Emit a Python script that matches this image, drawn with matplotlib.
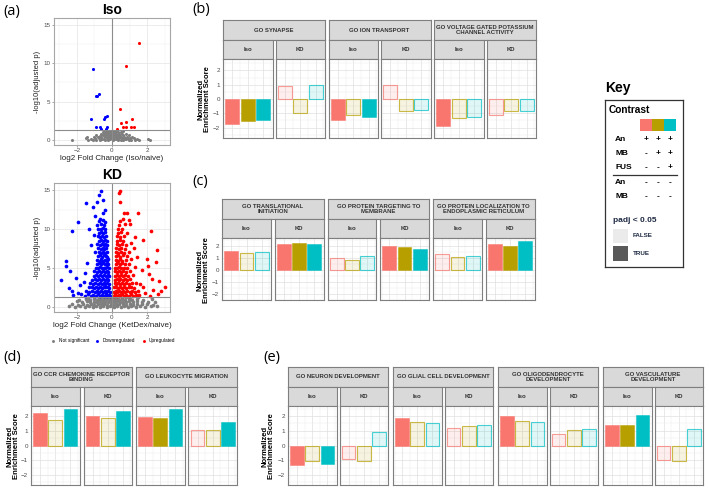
import matplotlib.pyplot as plt
from matplotlib.colors import to_rgba
from matplotlib.patches import Rectangle

W, H = 709, 488
plt.rcParams['font.family'] = ['Liberation Sans', 'DejaVu Sans']

contrast_colors = ["#F8766D", "#B79F00", "#00BFC4"]

# ---------------- volcano data (log2FC, -log10 padj) ----------------
iso_up = [(1.54, 12.6), (0.80, 9.7), (0.48, 4.0), (0.51, 2.2), (0.80, 2.3), (1.14, 2.7),
          (0.30, 1.4), (0.60, 1.7), (0.78, 1.7), (1.06, 1.65), (1.27, 1.75)]
iso_down = [(-1.10, 9.26), (-0.76, 6.0), (-0.86, 5.8), (-0.91, 5.7), (-1.20, 2.7), (-0.44, 2.75),
            (-0.38, 2.95), (-0.27, 3.15), (-0.90, 1.7), (-0.70, 1.65), (-0.60, 1.5), (-0.30, 1.7),
            (-0.35, 1.45)]
iso_ns = [(-2.30, 0.02), (-1.35, 0.05), (-1.10, 0.0), (-0.90, 0.06), (-0.70, 0.02), (-0.55, 0.08),
          (-0.40, 0.01), (-0.25, 0.05), (-0.10, 0.1), (0.05, 0.03), (0.20, 0.08), (0.35, 0.02),
          (0.50, 0.06), (0.65, 0.01), (0.80, 0.07), (0.95, 0.03), (1.10, 0.05), (1.30, 0.02),
          (1.55, 0.06), (2.05, 0.1), (2.15, 0.02),
          (-1.50, 0.22), (-1.20, 0.18), (-0.95, 0.25), (-0.75, 0.2), (-0.60, 0.26), (-0.45, 0.18),
          (-0.30, 0.24), (-0.15, 0.2), (0.00, 0.26), (0.12, 0.18), (0.28, 0.24), (0.42, 0.2),
          (0.58, 0.26), (0.72, 0.18), (0.90, 0.22), (1.05, 0.2), (1.25, 0.24), (1.45, 0.18),
          (-1.40, 0.42), (-1.00, 0.38), (-0.80, 0.45), (-0.62, 0.4), (-0.48, 0.46), (-0.35, 0.38),
          (-0.20, 0.44), (-0.08, 0.4), (0.08, 0.45), (0.20, 0.38), (0.34, 0.44), (0.50, 0.4),
          (0.66, 0.45), (0.85, 0.38), (1.15, 0.42),
          (-0.90, 0.62), (-0.70, 0.58), (-0.52, 0.65), (-0.38, 0.6), (-0.25, 0.66), (-0.12, 0.58),
          (0.03, 0.64), (0.15, 0.6), (0.30, 0.65), (0.45, 0.58), (0.62, 0.62), (0.95, 0.6),
          (-0.60, 0.8), (-0.45, 0.85), (-0.30, 0.78), (-0.18, 0.84), (-0.05, 0.8), (0.10, 0.86),
          (0.22, 0.78), (0.38, 0.84), (0.55, 0.8), (0.80, 0.82),
          (-0.50, 1.0), (-0.32, 1.05), (-0.20, 0.98), (-0.08, 1.04), (0.05, 1.0), (0.18, 1.05),
          (0.32, 0.98), (0.50, 1.02),
          (-0.42, 1.2), (-0.22, 1.15), (-0.10, 1.22), (0.02, 1.18), (0.15, 1.2), (0.30, 1.16),
          (0.62, 1.2)]

kd_down = [(-0.61, 14.9), (-0.72, 14.3), (-0.50, 13.7), (-0.88, 13.4), (-1.49, 13.3), (-1.10, 12.8),
           (-0.38, 12.5), (-0.53, 12.0), (-0.97, 11.7), (-0.66, 11.3), (-1.96, 10.9), (-2.25, 9.8),
           (-1.30, 10.0), (-2.59, 5.9), (-2.63, 5.2), (-2.40, 4.6), (-2.91, 3.5), (-2.06, 3.7),
           (-2.46, 2.4), (-2.30, 2.0), (-1.95, 1.8), (-2.20, 1.5), (-1.75, 1.6), (-1.60, 3.2),
           (-1.55, 4.4), (-1.80, 2.8), (-1.40, 5.6), (-1.20, 7.9), (-1.05, 9.2),
           (-1.55, 1.45), (-1.38, 1.6), (-1.22, 1.4), (-1.06, 1.55), (-0.92, 1.42), (-0.80, 1.6),
           (-0.68, 1.45), (-0.57, 1.55), (-0.46, 1.4), (-0.36, 1.6), (-0.26, 1.45), (-0.17, 1.55),
           (-0.10, 1.4),
           (-1.48, 2.05), (-1.30, 1.9), (-1.12, 2.1), (-0.98, 1.95), (-0.85, 2.1), (-0.74, 1.9),
           (-0.63, 2.05), (-0.52, 1.95), (-0.42, 2.1), (-0.32, 1.9), (-0.22, 2.05), (-0.13, 1.95),
           (-1.33, 2.5), (-1.16, 2.6), (-1.02, 2.45), (-0.89, 2.6), (-0.77, 2.45), (-0.66, 2.55),
           (-0.55, 2.45), (-0.45, 2.6), (-0.35, 2.5), (-0.25, 2.6), (-0.15, 2.45),
           (-1.25, 3.05), (-1.08, 2.95), (-0.94, 3.1), (-0.81, 2.95), (-0.69, 3.05), (-0.58, 2.95),
           (-0.47, 3.1), (-0.37, 2.95), (-0.27, 3.05), (-0.17, 2.95),
           (-1.15, 3.5), (-0.98, 3.6), (-0.85, 3.45), (-0.73, 3.6), (-0.62, 3.45), (-0.51, 3.55),
           (-0.41, 3.45), (-0.31, 3.6), (-0.21, 3.5),
           (-1.05, 4.0), (-0.90, 4.1), (-0.77, 3.95), (-0.66, 4.1), (-0.55, 3.95), (-0.45, 4.05),
           (-0.35, 3.95), (-0.25, 4.1), (-0.17, 4.0),
           (-1.00, 4.55), (-0.85, 4.45), (-0.72, 4.6), (-0.61, 4.45), (-0.50, 4.55), (-0.40, 4.45),
           (-0.30, 4.6), (-0.20, 4.5),
           (-0.93, 5.05), (-0.80, 4.95), (-0.68, 5.1), (-0.57, 4.95), (-0.47, 5.05), (-0.37, 4.95),
           (-0.27, 5.1), (-0.19, 5.0),
           (-0.88, 5.5), (-0.75, 5.6), (-0.63, 5.45), (-0.52, 5.6), (-0.42, 5.45), (-0.32, 5.55),
           (-0.23, 5.45),
           (-0.84, 6.05), (-0.71, 5.95), (-0.60, 6.1), (-0.49, 5.95), (-0.39, 6.05), (-0.29, 5.95),
           (-0.21, 6.1),
           (-0.80, 6.5), (-0.67, 6.6), (-0.56, 6.45), (-0.45, 6.6), (-0.35, 6.5), (-0.26, 6.45),
           (-0.95, 7.0), (-0.74, 7.1), (-0.62, 6.95), (-0.51, 7.1), (-0.41, 6.95), (-0.31, 7.05),
           (-0.78, 7.55), (-0.65, 7.45), (-0.54, 7.6), (-0.44, 7.45), (-0.34, 7.55),
           (-0.85, 8.05), (-0.70, 7.95), (-0.58, 8.1), (-0.47, 7.95), (-0.37, 8.05), (-0.28, 7.95),
           (-0.76, 8.5), (-0.63, 8.6), (-0.52, 8.45), (-0.41, 8.55), (-0.31, 8.45),
           (-0.80, 9.05), (-0.67, 8.95), (-0.55, 9.1), (-0.44, 8.95), (-0.35, 9.05),
           (-0.72, 9.5), (-0.60, 9.6), (-0.49, 9.45), (-0.39, 9.55),
           (-0.78, 10.05), (-0.64, 9.95), (-0.52, 10.1), (-0.42, 9.95),
           (-0.85, 10.5), (-0.62, 10.6), (-0.47, 10.45),
           (-0.74, 11.0), (-0.52, 11.1), (-0.40, 10.95)]

kd_up = [(0.46, 14.9), (0.38, 14.6), (0.46, 13.5), (0.69, 12.0), (0.85, 12.0), (1.50, 12.0),
         (0.60, 11.3), (1.05, 10.7), (2.20, 9.7), (1.77, 8.6), (2.55, 7.3), (2.50, 5.8),
         (1.98, 6.1), (2.65, 3.3), (3.00, 2.6), (2.25, 3.6), (2.35, 2.2), (1.90, 1.8),
         (2.60, 1.6), (2.80, 2.0), (1.70, 4.7), (2.05, 5.2), (1.45, 6.4), (1.30, 9.0),
         (1.60, 3.0), (1.75, 2.5), (2.10, 4.2), (1.25, 7.6), (1.55, 1.5), (2.15, 1.4),
         (0.10, 1.45), (0.18, 1.6), (0.27, 1.42), (0.37, 1.55), (0.47, 1.4), (0.58, 1.6),
         (0.69, 1.45), (0.81, 1.55), (0.94, 1.42), (1.08, 1.6), (1.22, 1.45), (1.38, 1.55),
         (0.12, 1.95), (0.21, 2.1), (0.31, 1.9), (0.41, 2.05), (0.52, 1.95), (0.63, 2.1),
         (0.75, 1.9), (0.88, 2.05), (1.01, 1.95), (1.16, 2.1), (1.32, 1.9), (1.50, 2.05),
         (0.14, 2.5), (0.24, 2.6), (0.34, 2.45), (0.45, 2.6), (0.56, 2.45), (0.68, 2.55),
         (0.80, 2.45), (0.94, 2.6), (1.10, 2.5), (1.28, 2.45),
         (0.15, 3.05), (0.25, 2.95), (0.35, 3.1), (0.46, 2.95), (0.57, 3.05), (0.69, 2.95),
         (0.82, 3.1), (0.97, 2.95), (1.15, 3.05), (1.35, 3.1),
         (0.16, 3.5), (0.26, 3.6), (0.37, 3.45), (0.48, 3.6), (0.60, 3.45), (0.73, 3.55),
         (0.88, 3.45), (1.05, 3.6),
         (0.17, 4.0), (0.27, 4.1), (0.38, 3.95), (0.50, 4.1), (0.62, 3.95), (0.76, 4.05),
         (0.92, 3.95), (1.20, 4.1),
         (0.18, 4.55), (0.28, 4.45), (0.40, 4.6), (0.52, 4.45), (0.65, 4.55), (0.80, 4.45),
         (1.00, 4.6),
         (0.19, 5.05), (0.29, 4.95), (0.41, 5.1), (0.53, 4.95), (0.67, 5.05), (0.85, 4.95),
         (1.30, 5.1),
         (0.20, 5.5), (0.31, 5.6), (0.43, 5.45), (0.56, 5.6), (0.72, 5.45), (0.95, 5.55),
         (0.21, 6.05), (0.32, 5.95), (0.45, 6.1), (0.59, 5.95), (0.77, 6.05), (1.10, 6.1),
         (0.22, 6.5), (0.34, 6.6), (0.47, 6.45), (0.62, 6.6), (0.85, 6.5),
         (0.23, 7.05), (0.36, 6.95), (0.50, 7.1), (0.66, 6.95), (0.95, 7.05),
         (0.25, 7.55), (0.38, 7.45), (0.53, 7.6), (0.72, 7.45),
         (0.26, 8.05), (0.40, 7.95), (0.56, 8.1), (0.78, 7.95), (1.10, 8.2),
         (0.28, 8.5), (0.43, 8.6), (0.60, 8.45),
         (0.30, 9.05), (0.46, 8.95), (0.66, 9.1),
         (0.33, 9.5), (0.52, 9.6), (0.85, 9.45),
         (0.36, 10.05), (0.58, 9.95),
         (0.40, 10.5), (0.75, 10.6),
         (0.45, 11.0), (0.95, 11.2)]

kd_ns = [(-2.45, 0.1), (-2.10, 0.05), (-1.80, 0.12), (-1.55, 0.05), (-1.30, 0.1), (-1.10, 0.03),
         (-0.90, 0.1), (-0.70, 0.05), (-0.50, 0.08), (-0.30, 0.03), (-0.10, 0.1), (0.10, 0.05),
         (0.30, 0.1), (0.50, 0.03), (0.70, 0.1), (0.90, 0.05), (1.10, 0.12), (1.35, 0.05),
         (1.60, 0.1), (1.90, 0.05), (2.20, 0.12), (2.55, 0.08),
         (-2.30, 0.4), (-1.95, 0.3), (-1.65, 0.42), (-1.40, 0.3), (-1.20, 0.38), (-1.00, 0.3),
         (-0.82, 0.4), (-0.62, 0.32), (-0.44, 0.4), (-0.26, 0.3), (-0.08, 0.38), (0.08, 0.3),
         (0.25, 0.4), (0.42, 0.32), (0.60, 0.4), (0.80, 0.3), (1.00, 0.38), (1.22, 0.3),
         (1.45, 0.4), (1.72, 0.32), (2.00, 0.4), (2.35, 0.3),
         (-2.00, 0.7), (-1.70, 0.6), (-1.45, 0.7), (-1.25, 0.6), (-1.05, 0.68), (-0.87, 0.6),
         (-0.70, 0.7), (-0.53, 0.6), (-0.37, 0.68), (-0.20, 0.6), (-0.05, 0.7), (0.10, 0.6),
         (0.26, 0.7), (0.43, 0.6), (0.60, 0.68), (0.78, 0.6), (0.97, 0.7), (1.18, 0.6),
         (1.40, 0.7), (1.68, 0.62), (2.05, 0.68), (2.45, 0.6),
         (-1.85, 0.95), (-1.50, 1.0), (-1.25, 0.92), (-1.05, 1.0), (-0.85, 0.92), (-0.66, 1.0),
         (-0.50, 0.92), (-0.34, 1.0), (-0.18, 0.92), (-0.04, 1.0), (0.09, 0.92), (0.24, 1.0),
         (0.40, 0.92), (0.57, 1.0), (0.75, 0.92), (0.95, 1.0), (1.15, 0.92), (1.40, 1.0),
         (1.75, 0.95), (2.25, 0.98),
         (-1.35, 1.2), (-1.00, 1.25), (-0.75, 1.18), (-0.55, 1.25), (-0.38, 1.18), (-0.22, 1.25),
         (-0.08, 1.18), (0.06, 1.25), (0.20, 1.18), (0.36, 1.25), (0.55, 1.18), (0.78, 1.25),
         (1.05, 1.2), (1.50, 1.22)]

# ---------------- GSEA data: NES per contrast (An, An+MB, An+MB+FUS) ----------------
b_terms = ["GO SYNAPSE", "GO ION TRANSPORT", "GO VOLTAGE GATED POTASSIUM\nCHANNEL ACTIVITY"]
b_iso = [[-1.74, -1.53, -1.49], [-1.47, -1.14, -1.23], [-1.88, -1.30, -1.23]]
b_iso_sig = [[1, 1, 1], [1, 0, 1], [1, 0, 0]]
b_kd = [[0.90, -1.00, 0.95], [0.95, -0.84, -0.74], [-1.14, -0.84, -0.84]]
b_kd_sig = [[0, 0, 0], [0, 0, 0], [0, 0, 0]]

c_terms = ["GO TRANSLATIONAL\nINITIATION", "GO PROTEIN TARGETING TO\nMEMBRANE",
           "GO PROTEIN LOCALIZATION TO\nENDOPLASMIC RETICULUM"]
c_iso = [[1.63, 1.43, 1.52], [1.06, 0.87, 1.17], [1.36, 1.08, 1.22]]
c_iso_sig = [[1, 0, 0], [0, 0, 0], [0, 0, 0]]
c_kd = [[2.16, 2.32, 2.16], [2.00, 1.93, 1.77], [2.23, 2.07, 2.44]]
c_kd_sig = [[1, 1, 1], [1, 1, 1], [1, 1, 1]]

d_terms = ["GO CCR CHEMOKINE RECEPTOR\nBINDING", "GO LEUKOCYTE MIGRATION"]
d_iso = [[2.18, 1.75, 2.50], [1.95, 1.86, 2.46]]
d_iso_sig = [[1, 0, 1], [1, 1, 1]]
d_kd = [[2.00, 1.86, 2.37], [1.03, 1.03, 1.63]]
d_kd_sig = [[1, 0, 1], [0, 0, 1]]

e_terms = ["GO NEURON DEVELOPMENT", "GO GLIAL CELL DEVELOPMENT", "GO OLIGODENDROCYTE\nDEVELOPMENT",
           "GO VASCULATURE\nDEVELOPMENT"]
e_iso = [[-1.36, -1.08, -1.24], [1.84, 1.63, 1.56], [1.98, 1.66, 1.61], [1.43, 1.43, 2.09]]
e_iso_sig = [[1, 0, 1], [1, 0, 0], [1, 0, 0], [1, 1, 1]]
e_kd = [[-0.94, -1.08, 0.94], [1.22, 1.31, 1.38], [0.76, 1.08, 1.13], [-0.97, -1.08, 1.15]]
e_kd_sig = [[0, 0, 0], [0, 0, 0], [0, 0, 0], [0, 0, 0]]

key_rows = ["An", "MB", "FUS", "An", "MB"]
key_signs = [["+", "+", "+"], ["-", "+", "+"], ["-", "-", "+"], ["-", "-", "-"], ["-", "-", "-"]]

fig = plt.figure(figsize=(W / 100, H / 100), dpi=100)


def add_ax(x0, y0, x1, y1):
    # pixel box (top-left origin) -> figure axes
    return fig.add_axes([x0 / W, 1 - y1 / H, (x1 - x0) / W, (y1 - y0) / H])


def volcano(box, ns, down, up, title, xlabel, size=5, legend=False):
    ax = add_ax(*box)
    ax.scatter([p[0] for p in ns], [p[1] for p in ns], s=size, c="#7F7F7F", lw=0, label="Not significant")
    ax.scatter([p[0] for p in down], [p[1] for p in down], s=size, c="#0000FF", lw=0, label="Downregulated")
    ax.scatter([p[0] for p in up], [p[1] for p in up], s=size, c="#FF0000", lw=0, label="Upregulated")
    ax.axhline(1.3, color="#8C8C8C", lw=0.8)
    ax.axvline(0, color="#8C8C8C", lw=0.8)
    ax.set_xlim(-3.3, 3.3)
    ax.set_ylim(-0.65, 15.9)
    ax.set_xticks([-2, 0, 2])
    ax.set_yticks([0, 5, 10, 15])
    ax.set_xticks([-3, -1, 1, 3], minor=True)
    ax.set_yticks([2.5, 7.5, 12.5], minor=True)
    ax.grid(True, which="major", color="#E5E5E5", lw=0.5)
    ax.grid(True, which="minor", color="#F0F0F0", lw=0.3)
    ax.set_axisbelow(True)
    ax.tick_params(labelsize=4.5, labelcolor="#4D4D4D", length=1.5, width=0.5, color="#808080", pad=1)
    ax.tick_params(which="minor", length=0)
    for s in ax.spines.values():
        s.set_color("#A6A6A6")
        s.set_linewidth(0.8)
    ax.set_ylabel("-log10(adjusted p)", fontsize=5.5, labelpad=2, color="#222222")
    ax.set_xlabel(xlabel, fontsize=5.8, labelpad=1, color="#222222")
    ax.set_title(title, fontsize=10, fontweight="bold", pad=3)
    if legend:
        ax.legend(loc="upper center", bbox_to_anchor=(0.5, -0.17), ncol=3, fontsize=3.4,
                  frameon=False, handletextpad=0.1, columnspacing=0.8, markerscale=0.8)
    return ax


def strip(x0, y0, x1, y1, text):
    ax = add_ax(x0, y0, x1, y1)
    ax.set_facecolor("#D9D9D9")
    ax.set_xticks([])
    ax.set_yticks([])
    for s in ax.spines.values():
        s.set_color("#7F7F7F")
        s.set_linewidth(0.8)
    ax.text(0.5, 0.5, text, ha="center", va="center", fontsize=4.3, fontweight="bold",
            color="#333333", transform=ax.transAxes, linespacing=1.0)


def bar_panel(box, values, sig, ylim, show_y):
    ax = add_ax(*box)
    for i, (v, s, c) in enumerate(zip(values, sig, contrast_colors)):
        if s:
            ax.bar(i + 1, v, width=0.9, color=c, edgecolor=to_rgba(c, 0.6), lw=0.6)
        else:
            ax.bar(i + 1, v, width=0.9, color=to_rgba(c, 0.12), edgecolor=to_rgba(c, 0.7), lw=0.8)
    ax.set_xlim(0.4, 3.6)
    ax.set_ylim(*ylim)
    ax.set_xticks([1, 2, 3])
    ax.set_xticks([0.5, 1.5, 2.5, 3.5], minor=True)
    ax.set_yticks([-2, -1, 0, 1, 2])
    ax.set_yticks([-2.5, -1.5, -0.5, 0.5, 1.5, 2.5], minor=True)
    ax.grid(True, which="major", color="#E0E0E0", lw=0.5)
    ax.grid(True, which="minor", color="#EDEDED", lw=0.35)
    ax.set_axisbelow(True)
    ax.tick_params(which="both", length=0)
    ax.set_xticklabels([])
    if show_y:
        ax.tick_params(axis="y", labelsize=4.5, labelcolor="#4D4D4D", pad=2)
    else:
        ax.set_yticklabels([])
    for s in ax.spines.values():
        s.set_color("#7F7F7F")
        s.set_linewidth(0.8)


def bar_group(x_start, top, bottom, pw, gap, step, terms, iso, iso_sig, kd, kd_sig, ylim):
    for i, term in enumerate(terms):
        xi = x_start + i * step
        xk = xi + pw + gap
        strip(xi, top, xk + pw, top + 20, term)
        strip(xi, top + 20, xi + pw, top + 39, "Iso")
        strip(xk, top + 20, xk + pw, top + 39, "KD")
        bar_panel((xi, top + 39, xi + pw, bottom), iso[i], iso_sig[i], ylim, i == 0)
        bar_panel((xk, top + 39, xk + pw, bottom), kd[i], kd_sig[i], ylim, False)


def nes_label(x, y):
    fig.text(x / W, 1 - y / H, "Normalized\nEnrichment Score", rotation=90, ha="center", va="center",
             fontsize=5.5, fontweight="bold", linespacing=0.95)


# ---------------- panel (a) ----------------
volcano((54, 18, 170, 145), iso_ns, iso_down, iso_up, "Iso", "log2 Fold Change (Iso/naive)", size=5)
volcano((54, 183, 170, 312), kd_ns, kd_down, kd_up, "KD", "log2 Fold Change (KetDex/naive)",
        size=7, legend=True)

# ---------------- panels (b)-(e) ----------------
bar_group(223, 20, 138, 49.5, 3, 105.5, b_terms, b_iso, b_iso_sig, b_kd, b_kd_sig, (-2.73, 2.8))
nes_label(204, 99)
bar_group(222, 199, 300, 49, 3.5, 105.5, c_terms, c_iso, c_iso_sig, c_kd, c_kd_sig, (-1.52, 2.7))
nes_label(203, 270)
bar_group(31, 367, 485, 48.5, 4, 105, d_terms, d_iso, d_iso_sig, d_kd, d_kd_sig, (-2.69, 2.69))
nes_label(13, 446)
bar_group(288, 367, 485, 48.5, 3, 105, e_terms, e_iso, e_iso_sig, e_kd, e_kd_sig, (-2.69, 2.69))
nes_label(268, 446)

# ---------------- key ----------------
fig.text(605 / W, 1 - 88 / H, "Key", fontsize=10, fontweight="bold", va="center", ha="left")
kax = add_ax(605, 100, 683, 267)
kax.set_xlim(0, 78)
kax.set_ylim(167, 0)
kax.set_xticks([])
kax.set_yticks([])
for s in kax.spines.values():
    s.set_color("#333333")
    s.set_linewidth(0.9)
kax.text(4, 10, "Contrast", fontsize=7.3, fontweight="bold", va="center")
for j, c in enumerate(contrast_colors):
    kax.add_patch(Rectangle((35 + 12 * j, 19), 12, 12, color=c, lw=0))
row_y = [40, 54, 68, 83, 97]
for lab, signs, y in zip(key_rows, key_signs, row_y):
    kax.text(10, y, lab, fontsize=6, fontweight="bold", va="center")
    for j, sg in enumerate(signs):
        kax.text(41 + 12 * j, y, sg, fontsize=6, fontweight="bold", va="center", ha="center")
kax.plot([8, 72], [75, 75], color="#333333", lw=0.9)
kax.text(8, 120, "padj < 0.05", fontsize=6, fontweight="bold", color="#1F2A44", va="center")
kax.add_patch(Rectangle((8, 129), 15, 14, color="#EBEBEB", lw=0))
kax.add_patch(Rectangle((8, 146), 15, 15, color="#595959", lw=0))
kax.text(28, 136, "FALSE", fontsize=4.5, fontweight="bold", color="#1F2A44", va="center")
kax.text(28, 154, "TRUE", fontsize=4.5, fontweight="bold", color="#1F2A44", va="center")

# ---------------- panel letters ----------------
for lab, x, y in [("(a)", 3, 12), ("(b)", 192, 10), ("(c)", 192, 181), ("(d)", 3, 357), ("(e)", 263, 357)]:
    fig.text(x / W, 1 - y / H, lab, fontsize=10.5, family=["Open Sans", "DejaVu Sans"], va="center")

fig.savefig("out.png", dpi=100)
